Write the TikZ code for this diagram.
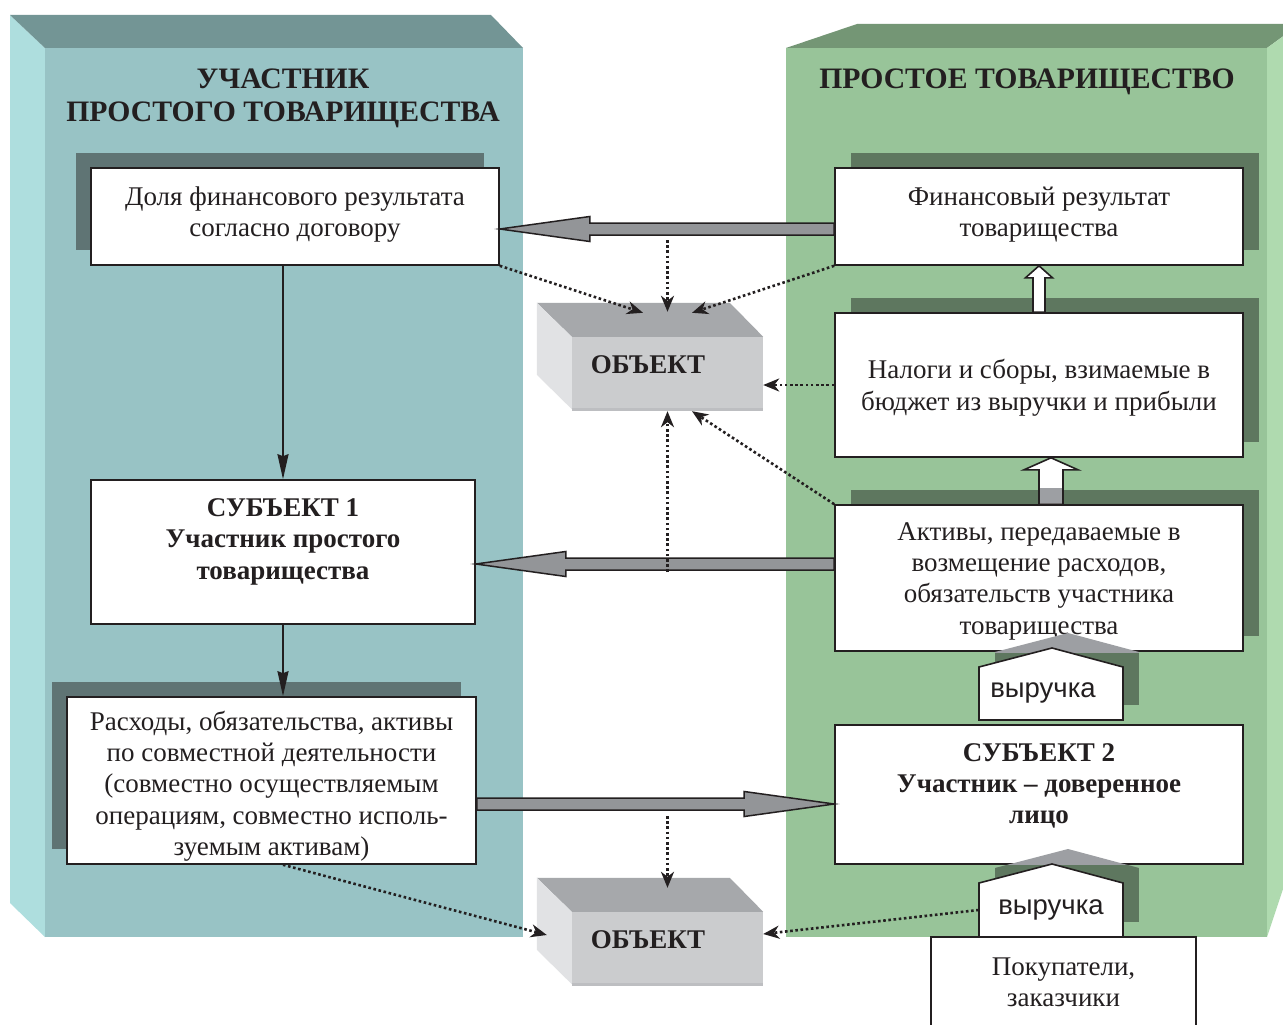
\documentclass[tikz,border=0pt]{standalone}
\usepackage{fontspec}
\setmainfont{Liberation Serif}
\newfontfamily\sansrev{Liberation Sans}
\usepackage{tikz}
\usetikzlibrary{calc,shadows,arrows.meta}

\definecolor{ink}{HTML}{231F20}
\definecolor{tealfront}{HTML}{98C3C5}
\definecolor{tealtop}{HTML}{739595}
\definecolor{tealside}{HTML}{AEDEDE}
\definecolor{tealshade}{HTML}{5F7474}
\definecolor{greenfront}{HTML}{98C499}
\definecolor{greentop}{HTML}{749675}
\definecolor{greenside}{HTML}{AFDAAF}
\definecolor{greenshade}{HTML}{5E775F}
\definecolor{arrowgrey}{HTML}{939598}
\definecolor{roofgrey}{HTML}{9D9FA3}
\definecolor{objtop}{HTML}{A6A8AB}
\definecolor{objfront}{HTML}{CBCCCE}
\definecolor{objside}{HTML}{E1E2E4}
\definecolor{objedge}{HTML}{BDBEC1}

\newcommand\boxtxt{\fontsize{27}{31.3}\selectfont}
\newcommand\paneltxt{\fontsize{29.7}{33}\selectfont\bfseries}
\newcommand\objtxt{\fontsize{27}{30}\selectfont\bfseries}
\newcommand\revtxt{\sansrev\fontsize{27.5}{30}\selectfont}

\tikzset{
  box/.style={draw=ink, line width=1.6pt, fill=white, align=center, text=ink, font=\boxtxt, inner sep=2pt},
  leftbox/.style={box, general shadow={fill=tealshade, shadow xshift=-15pt, shadow yshift=15pt}},
  rightbox/.style={box, general shadow={fill=greenshade, shadow xshift=16pt, shadow yshift=15pt}},
  paneltitle/.style={align=center, text=ink, font=\paneltxt},
  bigarrow/.style={draw=ink, line width=1.5pt, fill=arrowgrey},
  hollowarrow/.style={draw=ink, line width=1.6pt, fill=white},
  revbox/.style={draw=ink, line width=1.6pt, fill=white},
  revlabel/.style={text=ink, font=\revtxt, minimum width=144pt, inner sep=0pt},
  objface/.style={fill=objfront, minimum width=191pt, minimum height=72pt, inner sep=0pt},
  objlabel/.style={text=ink, font=\objtxt},
  flow/.style={draw=ink, line width=2pt, -{Stealth[length=25pt,width=11pt,inset=2pt]}},
  hint/.style={draw=ink, line width=2.6pt, dash pattern=on 2.6pt off 2.6pt, -{Stealth[length=16pt,width=13pt,inset=5pt]}}
}

\def\fatarrow(#1)(#2){% grey arrow, tip at #2
  \draw[bigarrow] ($(#1)+(0,-6)$) -- ($(#2)!90pt!(#1)+(0,-6)$) -- ($(#2)!90pt!(#1)+(0,-12.5)$)
    -- (#2) -- ($(#2)!90pt!(#1)+(0,12.5)$) -- ($(#2)!90pt!(#1)+(0,6)$) -- ($(#1)+(0,6)$) -- cycle; }
\def\hollowarrow(#1)(#2)(#3:#4){% white arrow upwards, shaft half width : head half width
  \draw[hollowarrow] ($(#1)+(-#3,0)$) -- ($(#2)+(-#3,12)$) -- ($(#2)+(-#4,12)$) -- (#2)
    -- ($(#2)+(#4,12)$) -- ($(#2)+(#3,12)$) -- ($(#1)+(#3,0)$) -- cycle; }

\begin{document}
\begin{tikzpicture}[x=1pt,y=-1pt]
  \useasboundingbox (0,0) rectangle (1283,1025);
  \fill[white] (0,0) rectangle (1283,1025);

  % participant block
  \fill[tealside] (10,15) -- (45,48) -- (45,937) -- (10,903) -- cycle;
  \fill[tealtop] (10,15) -- (491,15) -- (523,48) -- (45,48) -- cycle;
  \fill[tealfront] (45,48) rectangle (523,937);
  % partnership block
  \fill[greentop] (786,48) -- (857,24) -- (1300,24) -- (1267,48) -- cycle;
  \fill[greenside] (1267,48) -- (1300,24) -- (1300,838) -- (1267,937) -- cycle;
  \fill[greenfront] (786,48) rectangle (1267,937);

  \node[paneltitle] (ltitle) at (283,98) {УЧАСТНИК\\ПРОСТОГО ТОВАРИЩЕСТВА};
  \node[paneltitle] (rtitle) at (1027,82) {ПРОСТОЕ ТОВАРИЩЕСТВО};

  \node[leftbox, minimum width=408pt, minimum height=97pt, text depth=10pt] (share) at (295,216.5)
    {Доля финансового результата\\согласно договору};
  \node[box, minimum width=384pt, minimum height=144pt, text depth=26pt] (subj1) at (283,552)
    {\bfseries СУБЪЕКТ 1\\\bfseries Участник простого\\\bfseries товарищества};
  \node[leftbox, minimum width=409pt, minimum height=167pt, text height=156pt] (costs) at (271.5,780.5)
    {Расходы, обязательства, активы\\по совместной деятельности\\(совместно осуществляемым\\операциям, совместно исполь-\\зуемым активам)};

  \node[rightbox, minimum width=408pt, minimum height=97pt, text depth=10pt] (result) at (1039,216.5)
    {Финансовый результат\\товарищества};
  \node[rightbox, minimum width=408pt, minimum height=144pt, text height=56pt] (taxes) at (1039,385)
    {Налоги и сборы, взимаемые в\\бюджет из выручки и прибыли};
  \node[rightbox, minimum width=408pt, minimum height=146pt, text height=118pt] (assets) at (1039,578)
    {Активы, передаваемые в\\возмещение расходов,\\обязательств участника\\товарищества};
  \node[box, minimum width=408pt, minimum height=139pt, text depth=22pt] (subj2) at (1039,794.5)
    {\bfseries СУБЪЕКТ 2\\\bfseries Участник -- доверенное\\\bfseries лицо};
  \node[box, minimum width=265pt, minimum height=90pt] (buyers) at (1063.5,982)
    {Покупатели,\\заказчики};

  % grey arrows
  \coordinate (p1) at ([yshift=-12.5pt]result.west);
  \coordinate (q1) at (share.east |- p1);
  \fatarrow(p1)(q1)
  \coordinate (p2) at ([yshift=14pt]assets.west);
  \coordinate (q2) at (subj1.east |- p2);
  \fatarrow(p2)(q2)
  \coordinate (p3) at ([yshift=-23.5pt]costs.east);
  \coordinate (q3) at (subj2.west |- p3);
  \fatarrow(p3)(q3)

  \draw[flow] (share.south -| subj1.north) -- (subj1.north);
  \draw[flow] (subj1.south) -- (costs.north -| subj1.south);

  % white arrows
  \coordinate (w1) at (taxes.north);
  \coordinate (w1t) at (result.south -| w1);
  \hollowarrow(w1)(w1t)(6:13.5)
  \coordinate (w2) at ([xshift=12pt]assets.north);
  \coordinate (w2t) at (taxes.south -| w2);
  \hollowarrow(w2)(w2t)(12:27)
  \fill[roofgrey] ($(w2)+(-11.2,-16)$) rectangle ($(w2)+(11.2,-0.8)$);

  % revenue
  \begin{scope}
    \clip (995,705) -- (995,652) -- (1068,633) -- (1139,652) -- (1139,705) -- cycle;
    \fill[roofgrey] (995,620) rectangle (1139,705);
    \fill[greenshade] (995,652.5) rectangle (1139,705);
  \end{scope}
  \draw[revbox] (979,720) -- (979,667) -- (1052,648) -- (1123,667) -- (1123,720) -- cycle;
  \node[revlabel] (rev1) at (1043,693) {выручка};
  \begin{scope}
    \clip (995,922) -- (995,868) -- (1068,849) -- (1139,868) -- (1139,922) -- cycle;
    \fill[roofgrey] (995,840) rectangle (1139,922);
    \fill[greenshade] (995,864.8) rectangle (1139,922);
  \end{scope}
  \draw[revbox] (979,937) -- (979,883) -- (1052,864) -- (1123,883) -- (1123,937) -- cycle;
  \node[revlabel] (rev2) at (1051,910) {выручка};

  % objects
  \node[objface] (obj1) at (667.5,373) {};
  \fill[objtop] (obj1.north west) -- ++(-35,-34) -- ++(193,0) -- (obj1.north east) -- cycle;
  \fill[objside] (obj1.north west) -- ++(-35,-34) -- ++(0,72) -- (obj1.south west) -- cycle;
  \draw[objedge, line width=3pt] (obj1.south west) -- (obj1.south east);
  \node[objlabel] (obj1lbl) at ($(obj1)+(-19.5,-8)$) {ОБЪЕКТ};

  \node[objface] (obj2) at (667.5,948) {};
  \fill[objtop] (obj2.north west) -- ++(-35,-34) -- ++(193,0) -- (obj2.north east) -- cycle;
  \fill[objside] (obj2.north west) -- ++(-35,-34) -- ++(0,72) -- (obj2.south west) -- cycle;
  \draw[objedge, line width=3pt] (obj2.south west) -- (obj2.south east);
  \node[objlabel] (obj2lbl) at ($(obj2)+(-19.5,-8)$) {ОБЪЕКТ};

  % dotted links
  \coordinate (d1) at (p1 -| obj1.north);
  \coordinate (d2) at (p2 -| obj1.south);
  \coordinate (d3) at (p3 -| obj2.north);
  \draw[hint] (share.south east) -- ($(obj1.north)+(-24.5,-24)$);
  \draw[hint] ($(d1)+(0,11)$) -- ($(obj1.north)+(0,-25)$);
  \draw[hint] (result.south west) -- ($(obj1.north)+(24.5,-24)$);
  \draw[hint] (taxes.west) -- (taxes.west -| obj1.east);
  \draw[hint] ($(d2)+(0,8)$) -- ($(obj1.south)+(0,2)$);
  \draw[hint] (assets.north west) -- ($(obj1.south)+(24.5,2)$);
  \draw[hint] ($(d3)+(0,12)$) -- ($(obj2.north)+(0,-24)$);
  \draw[hint] (costs.south -| subj1.south) -- ($(obj2.west)+(-25,-13)$);
  \draw[hint] (rev2.west) -- ($(obj2.east)+(0,-14)$);
\end{tikzpicture}
\end{document}
